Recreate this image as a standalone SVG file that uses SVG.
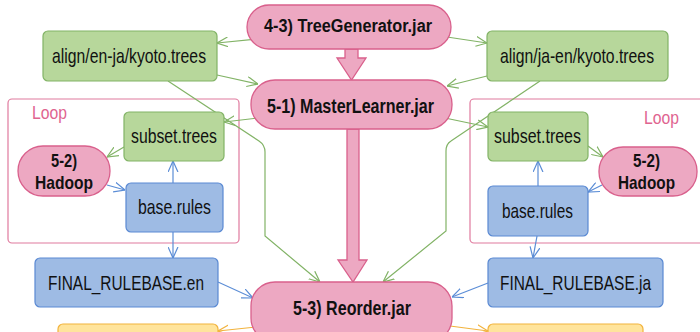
<svg xmlns="http://www.w3.org/2000/svg" width="700" height="332" viewBox="0 0 700 332">
  <style>
    text { font-family: "Liberation Sans", Arial, sans-serif; fill: #111; }
    .lbl { font-size: 21px; text-anchor: middle; }
    .bold { font-weight: bold; text-anchor: middle; }
    .loop { font-size: 18px; fill: #E0648F; }
    .pill { fill: #EDA8C2; stroke: #D9608C; stroke-width: 1.3; }
    .green { fill: #B7D79B; stroke: #82B366; stroke-width: 1.2; }
    .blue { fill: #9EBBE4; stroke: #5A89D3; stroke-width: 1.2; }
    .yellow { fill: #FFE49C; stroke: #F2B33D; stroke-width: 1.2; }
    .frame { fill: none; stroke: #E07A9E; stroke-width: 1.2; }
    .big { fill: #EDA8C2; stroke: #D9608C; stroke-width: 1.3; }
    .eg { fill: none; stroke: #82B366; stroke-width: 1.2; marker-end: url(#hg); }
    .eb { fill: none; stroke: #5B8DD6; stroke-width: 1.2; marker-end: url(#hb); }
    .eo { fill: none; stroke: #F2B33D; stroke-width: 1.2; marker-end: url(#ho); }
  </style>
  <defs>
    <marker id="hg" viewBox="0 0 10 10" refX="10" refY="5" markerWidth="11" markerHeight="11" markerUnits="userSpaceOnUse" orient="auto">
      <path d="M0,0.5 L10,5 L0,9.5" fill="none" stroke="#82B366" stroke-width="1.1"/>
    </marker>
    <marker id="hb" viewBox="0 0 10 10" refX="10" refY="5" markerWidth="11" markerHeight="11" markerUnits="userSpaceOnUse" orient="auto">
      <path d="M0,0.5 L10,5 L0,9.5" fill="none" stroke="#5B8DD6" stroke-width="1.1"/>
    </marker>
    <marker id="ho" viewBox="0 0 10 10" refX="10" refY="5" markerWidth="11" markerHeight="11" markerUnits="userSpaceOnUse" orient="auto">
      <path d="M0,0.5 L10,5 L0,9.5" fill="none" stroke="#F2B33D" stroke-width="1.1"/>
    </marker>
  </defs>

  <rect width="700" height="332" fill="#fff"/>

  <!-- loop frames -->
  <g id="loop-left">
    <rect class="frame" x="8" y="99" width="231" height="144" rx="4"/>
    <text class="loop" x="32" y="119" textLength="35" lengthAdjust="spacingAndGlyphs">Loop</text>
  </g>
  <g id="loop-right">
    <rect class="frame" x="470" y="99" width="240" height="144" rx="4"/>
    <text class="loop" x="644" y="123.5" textLength="35" lengthAdjust="spacingAndGlyphs">Loop</text>
  </g>

  <!-- connectors -->
  <g id="connectors">
    <path class="big" d="M345,49 L358,49 L358,58 L366,58 L351.5,80 L337,58 L345,58 Z"/>
    <path class="big" d="M347,129 L359,129 L359,260 L367,260 L353,282 L338,260 L347,260 Z"/>

    <path class="eg" d="M258,39 L217,43"/>
    <path class="eg" d="M447,37 L487,43"/>
    <path class="eg" d="M217,75 L258,84"/>
    <path class="eg" d="M487,76 L447,86"/>
    <path class="eg" d="M258,118 L224,122"/>
    <path class="eg" d="M445,118 L488,127"/>
    <path class="eg" d="M168,81 L259,141 Q265,145 265,152 L265,236 L320,282"/>
    <path class="eg" d="M540,81 L451,141 Q446,144 446,151 L446,231 L383,282"/>
    <path class="eg" d="M124,147 L107,157"/>
    <path class="eg" d="M588,146 L603,157"/>

    <path class="eb" d="M107,185 L125,190"/>
    <path class="eb" d="M173,183 L173,161"/>
    <path class="eb" d="M173,232 L173,258"/>
    <path class="eb" d="M218,282 L253,298"/>
    <path class="eb" d="M602,185 L588,192"/>
    <path class="eb" d="M538,186 L538,161"/>
    <path class="eb" d="M537,236 L533,258"/>
    <path class="eb" d="M488,283 L452,297"/>

    <path class="eo" d="M256,327 L218,331"/>
    <path class="eo" d="M450,326 L488,331"/>
  </g>

  <!-- nodes -->
  <g id="tree-generator">
    <rect class="pill" x="247" y="5" width="204" height="44" rx="22"/>
    <text class="bold" x="348" y="32" font-size="18" textLength="168" lengthAdjust="spacingAndGlyphs">4-3) TreeGenerator.jar</text>
  </g>
  <g id="master-learner">
    <rect class="pill" x="251" y="80" width="201" height="49" rx="24"/>
    <text class="bold" x="350.5" y="112.5" font-size="20" textLength="167" lengthAdjust="spacingAndGlyphs">5-1) MasterLearner.jar</text>
  </g>
  <g id="reorder">
    <rect class="pill" x="251" y="282" width="201" height="60" rx="24"/>
    <text class="bold" x="352" y="315" font-size="20" textLength="118" lengthAdjust="spacingAndGlyphs">5-3) Reorder.jar</text>
  </g>

  <g id="trees-en-ja">
    <rect class="green" x="43" y="31" width="174" height="50" rx="5"/>
    <text class="lbl" x="129" y="63" textLength="154" lengthAdjust="spacingAndGlyphs">align/en-ja/kyoto.trees</text>
  </g>
  <g id="trees-ja-en">
    <rect class="green" x="487" y="31" width="181" height="50" rx="5"/>
    <text class="lbl" x="577" y="63" textLength="154" lengthAdjust="spacingAndGlyphs">align/ja-en/kyoto.trees</text>
  </g>

  <g id="subset-left">
    <rect class="green" x="124" y="112" width="100" height="49" rx="5"/>
    <text class="lbl" x="174" y="143" textLength="86" lengthAdjust="spacingAndGlyphs">subset.trees</text>
  </g>
  <g id="hadoop-left">
    <rect class="pill" x="18" y="146" width="92" height="50" rx="25"/>
    <text class="bold" x="64" y="167" font-size="19" textLength="26" lengthAdjust="spacingAndGlyphs">5-2)</text>
    <text class="bold" x="64" y="189" font-size="19" textLength="58" lengthAdjust="spacingAndGlyphs">Hadoop</text>
  </g>
  <g id="rules-left">
    <rect class="blue" x="126" y="183" width="97" height="49" rx="5"/>
    <text class="lbl" x="174.5" y="214" textLength="73" lengthAdjust="spacingAndGlyphs">base.rules</text>
  </g>

  <g id="subset-right">
    <rect class="green" x="488" y="112" width="100" height="49" rx="5"/>
    <text class="lbl" x="537.5" y="143" textLength="87" lengthAdjust="spacingAndGlyphs">subset.trees</text>
  </g>
  <g id="hadoop-right">
    <rect class="pill" x="599" y="147" width="98" height="49" rx="24"/>
    <text class="bold" x="646.5" y="167" font-size="19" textLength="27" lengthAdjust="spacingAndGlyphs">5-2)</text>
    <text class="bold" x="646.5" y="189" font-size="19" textLength="57" lengthAdjust="spacingAndGlyphs">Hadoop</text>
  </g>
  <g id="rules-right">
    <rect class="blue" x="488" y="186" width="100" height="50" rx="5"/>
    <text class="lbl" x="537.5" y="218" textLength="71" lengthAdjust="spacingAndGlyphs">base.rules</text>
  </g>

  <g id="rulebase-en">
    <rect class="blue" x="35" y="258" width="183" height="49" rx="5"/>
    <text class="lbl" x="126" y="289.5" textLength="156" lengthAdjust="spacingAndGlyphs">FINAL_RULEBASE.en</text>
  </g>
  <g id="rulebase-ja">
    <rect class="blue" x="488" y="258" width="175" height="49" rx="5"/>
    <text class="lbl" x="575.5" y="289.5" textLength="151" lengthAdjust="spacingAndGlyphs">FINAL_RULEBASE.ja</text>
  </g>

  <g id="output-left">
    <rect class="yellow" x="58" y="324" width="160" height="30" rx="5"/>
  </g>
  <g id="output-right">
    <rect class="yellow" x="488" y="324" width="155" height="30" rx="5"/>
  </g>
</svg>
